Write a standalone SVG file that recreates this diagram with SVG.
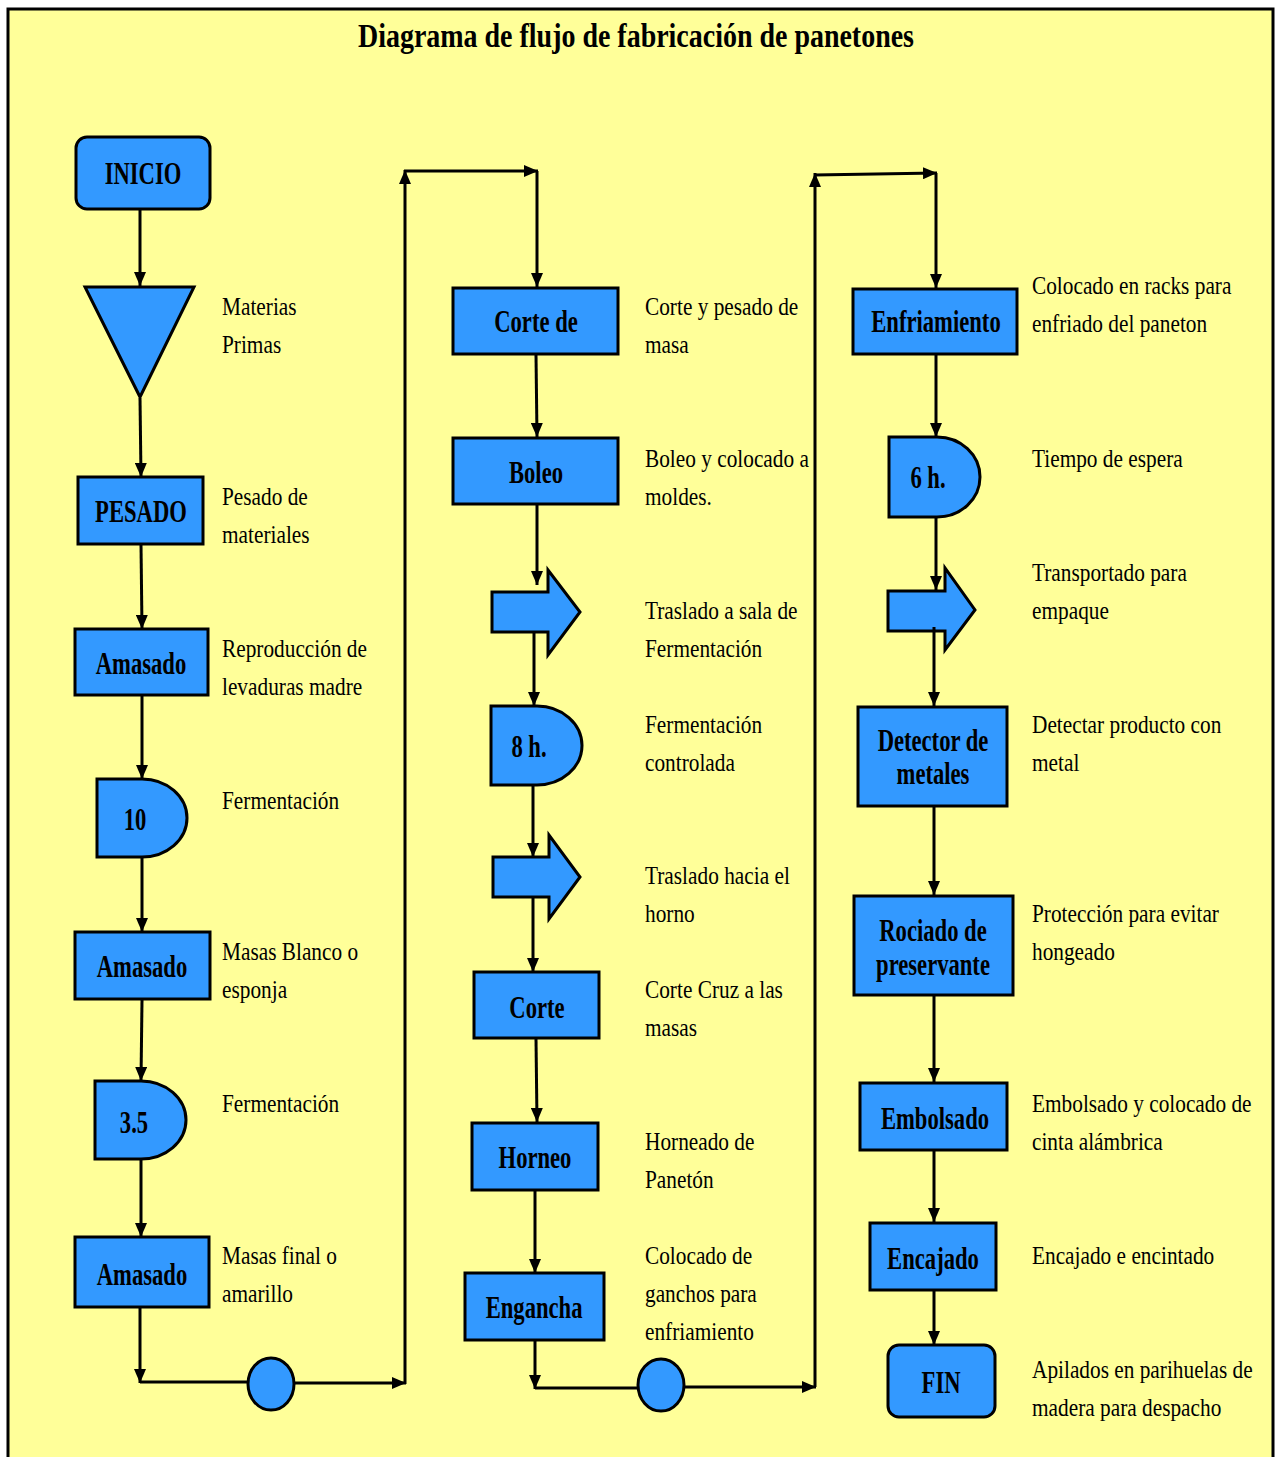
<svg xmlns="http://www.w3.org/2000/svg" width="1279" height="1457" viewBox="0 0 1279 1457" font-family="'Liberation Serif', serif">
  <style>
    .box { fill: #3399FF; stroke: #000; stroke-width: 3; }
    .ln { fill: none; stroke: #000; stroke-width: 3; }
    .ar { marker-end: url(#ah); }
    text { font-family: 'Liberation Serif', serif; fill: #000; }
    .nt { font-weight: bold; font-size: 31px; text-anchor: middle; transform-box: fill-box; transform-origin: 50% 50%; transform: scaleX(0.73); }
    .lbl { font-size: 26px; transform-box: fill-box; transform-origin: 0 50%; transform: scaleX(0.82); }
    .title { font-weight: bold; font-size: 33px; text-anchor: middle; }
  </style>
  <defs>
    <marker id="ah" viewBox="0 0 14 12" refX="14" refY="6" markerWidth="14" markerHeight="12" markerUnits="userSpaceOnUse" orient="auto">
      <path d="M0,0 L14,6 L0,12 z" fill="#000"/>
    </marker>
  </defs>

  <!-- sheet -->
  <rect x="0" y="0" width="1279" height="1457" fill="#fff"/>
  <rect x="8" y="9" width="1265" height="1470" fill="#FFFF99" stroke="#000" stroke-width="3"/>
  <text class="title" x="636" y="47" textLength="556" lengthAdjust="spacingAndGlyphs">Diagrama de flujo de fabricación de panetones</text>

  <!-- column 1 -->
  <g id="inicio"><rect class="box" x="76" y="137" width="134" height="72" rx="11"/><text class="nt" x="143" y="184">INICIO</text></g>
  <g id="materias-primas"><path class="box" d="M85,287 H194 L140,397 Z"/></g>
  <g id="pesado"><rect class="box" x="78" y="477" width="125" height="67"/><text class="nt" x="141" y="522">PESADO</text></g>
  <g id="amasado-1"><rect class="box" x="75" y="629" width="133" height="66"/><text class="nt" x="141" y="674">Amasado</text></g>
  <g id="espera-10"><path class="box" d="M97,779 H142 A45,39 0 0 1 142,857 H97 Z"/><text class="nt" x="135" y="830">10</text></g>
  <g id="amasado-2"><rect class="box" x="75" y="932" width="135" height="67"/><text class="nt" x="142" y="977">Amasado</text></g>
  <g id="espera-3-5"><path class="box" d="M95,1081 H141 A45,39 0 0 1 141,1159 H95 Z"/><text class="nt" x="134" y="1133">3.5</text></g>
  <g id="amasado-3"><rect class="box" x="75" y="1237" width="134" height="70"/><text class="nt" x="142" y="1285">Amasado</text></g>
  <g id="conector-1"><ellipse class="box" cx="271" cy="1384" rx="23" ry="26"/></g>

  <!-- column 2 -->
  <g id="corte-de"><rect class="box" x="453" y="288" width="165" height="66"/><text class="nt" x="536" y="332">Corte de</text></g>
  <g id="boleo"><rect class="box" x="453" y="438" width="165" height="66"/><text class="nt" x="536" y="483">Boleo</text></g>
  <g id="traslado-1"><path class="box" d="M492,592 H548 V570 L580,612 L548,655 V632 H492 Z"/></g>
  <g id="espera-8h"><path class="box" d="M491,706 H537 A45,39.5 0 0 1 537,785 H491 Z"/><text class="nt" x="529" y="757">8 h.</text></g>
  <g id="traslado-2"><path class="box" d="M493,857 H549 V835 L580,877 L549,919 V897 H493 Z"/></g>
  <g id="corte"><rect class="box" x="474" y="972" width="125" height="66"/><text class="nt" x="537" y="1018">Corte</text></g>
  <g id="horneo"><rect class="box" x="472" y="1123" width="126" height="67"/><text class="nt" x="535" y="1168">Horneo</text></g>
  <g id="engancha"><rect class="box" x="465" y="1273" width="139" height="67"/><text class="nt" x="534" y="1318">Engancha</text></g>
  <g id="conector-2"><ellipse class="box" cx="661" cy="1385" rx="23" ry="26"/></g>

  <!-- column 3 -->
  <g id="enfriamiento"><rect class="box" x="853" y="289" width="164" height="65"/><text class="nt" x="936" y="332">Enfriamiento</text></g>
  <g id="espera-6h"><path class="box" d="M889,437 H937 A43,40 0 0 1 937,517 H889 Z"/><text class="nt" x="928" y="488">6 h.</text></g>
  <g id="transporte"><path class="box" d="M888,591 H945 V568 L975,610 L945,650 V631 H888 Z"/></g>
  <g id="detector"><rect class="box" x="858" y="707" width="149" height="99"/><text class="nt" x="933" y="751">Detector de</text><text class="nt" x="933" y="784">metales</text></g>
  <g id="rociado"><rect class="box" x="854" y="896" width="159" height="99"/><text class="nt" x="933" y="941">Rociado de</text><text class="nt" x="933" y="975">preservante</text></g>
  <g id="embolsado"><rect class="box" x="860" y="1083" width="147" height="67"/><text class="nt" x="935" y="1129">Embolsado</text></g>
  <g id="encajado"><rect class="box" x="870" y="1223" width="126" height="67"/><text class="nt" x="933" y="1269">Encajado</text></g>
  <g id="fin"><rect class="box" x="888" y="1345" width="107" height="72" rx="11"/><text class="nt" x="941" y="1393">FIN</text></g>

  <!-- connectors -->
  <g id="connectors">
    <path class="ln ar" d="M140,209 V286"/>
    <path class="ln ar" d="M140,398 L141,477"/>
    <path class="ln ar" d="M141,545 L142,629"/>
    <path class="ln ar" d="M142,696 V779"/>
    <path class="ln ar" d="M142,858 V932"/>
    <path class="ln ar" d="M142,1000 L141,1081"/>
    <path class="ln ar" d="M141,1160 V1237"/>
    <path class="ln ar" d="M140,1308 V1383"/>
    <path class="ln" d="M140,1382 H248"/>
    <path class="ln ar" d="M294,1383 H406"/>
    <path class="ln ar" d="M405,1384 V170"/>
    <path class="ln ar" d="M404,171 H538"/>
    <path class="ln ar" d="M537,171 V287"/>

    <path class="ln ar" d="M536,355 L537,437"/>
    <path class="ln ar" d="M537,505 V585"/>
    <path class="ln ar" d="M534,632 V706"/>
    <path class="ln ar" d="M533,786 V857"/>
    <path class="ln ar" d="M533,897 V972"/>
    <path class="ln ar" d="M536,1039 L537,1122"/>
    <path class="ln ar" d="M535,1191 V1273"/>
    <path class="ln ar" d="M535,1341 V1389"/>
    <path class="ln" d="M535,1388 H638"/>
    <path class="ln ar" d="M684,1387 H816"/>
    <path class="ln ar" d="M815,1387 V173"/>
    <path class="ln ar" d="M814,175 L937,173"/>
    <path class="ln ar" d="M936,173 V288"/>

    <path class="ln ar" d="M936,355 V437"/>
    <path class="ln ar" d="M936,518 V590"/>
    <path class="ln ar" d="M934,627 V706"/>
    <path class="ln ar" d="M934,807 V895"/>
    <path class="ln ar" d="M934,996 V1082"/>
    <path class="ln ar" d="M934,1151 V1222"/>
    <path class="ln ar" d="M934,1291 V1345"/>
  </g>

  <!-- side notes -->
  <g id="notes">
    <text class="lbl" x="222" y="315">Materias</text>
    <text class="lbl" x="222" y="353">Primas</text>
    <text class="lbl" x="222" y="505">Pesado de</text>
    <text class="lbl" x="222" y="543">materiales</text>
    <text class="lbl" x="222" y="657">Reproducción de</text>
    <text class="lbl" x="222" y="695">levaduras madre</text>
    <text class="lbl" x="222" y="809">Fermentación</text>
    <text class="lbl" x="222" y="960">Masas Blanco o</text>
    <text class="lbl" x="222" y="998">esponja</text>
    <text class="lbl" x="222" y="1112">Fermentación</text>
    <text class="lbl" x="222" y="1264">Masas final o</text>
    <text class="lbl" x="222" y="1302">amarillo</text>

    <text class="lbl" x="645" y="315">Corte y pesado de</text>
    <text class="lbl" x="645" y="353">masa</text>
    <text class="lbl" x="645" y="467">Boleo y colocado a</text>
    <text class="lbl" x="645" y="505">moldes.</text>
    <text class="lbl" x="645" y="619">Traslado a sala de</text>
    <text class="lbl" x="645" y="657">Fermentación</text>
    <text class="lbl" x="645" y="733">Fermentación</text>
    <text class="lbl" x="645" y="771">controlada</text>
    <text class="lbl" x="645" y="884">Traslado hacia el</text>
    <text class="lbl" x="645" y="922">horno</text>
    <text class="lbl" x="645" y="998">Corte Cruz a las</text>
    <text class="lbl" x="645" y="1036">masas</text>
    <text class="lbl" x="645" y="1150">Horneado de</text>
    <text class="lbl" x="645" y="1188">Panetón</text>
    <text class="lbl" x="645" y="1264">Colocado de</text>
    <text class="lbl" x="645" y="1302">ganchos para</text>
    <text class="lbl" x="645" y="1340">enfriamiento</text>

    <text class="lbl" x="1032" y="294">Colocado en racks para</text>
    <text class="lbl" x="1032" y="332">enfriado del paneton</text>
    <text class="lbl" x="1032" y="467">Tiempo de espera</text>
    <text class="lbl" x="1032" y="581">Transportado para</text>
    <text class="lbl" x="1032" y="619">empaque</text>
    <text class="lbl" x="1032" y="733">Detectar producto con</text>
    <text class="lbl" x="1032" y="771">metal</text>
    <text class="lbl" x="1032" y="922">Protección para evitar</text>
    <text class="lbl" x="1032" y="960">hongeado</text>
    <text class="lbl" x="1032" y="1112">Embolsado y colocado de</text>
    <text class="lbl" x="1032" y="1150">cinta alámbrica</text>
    <text class="lbl" x="1032" y="1264">Encajado e encintado</text>
    <text class="lbl" x="1032" y="1378">Apilados en parihuelas de</text>
    <text class="lbl" x="1032" y="1416">madera para despacho</text>
  </g>
</svg>
